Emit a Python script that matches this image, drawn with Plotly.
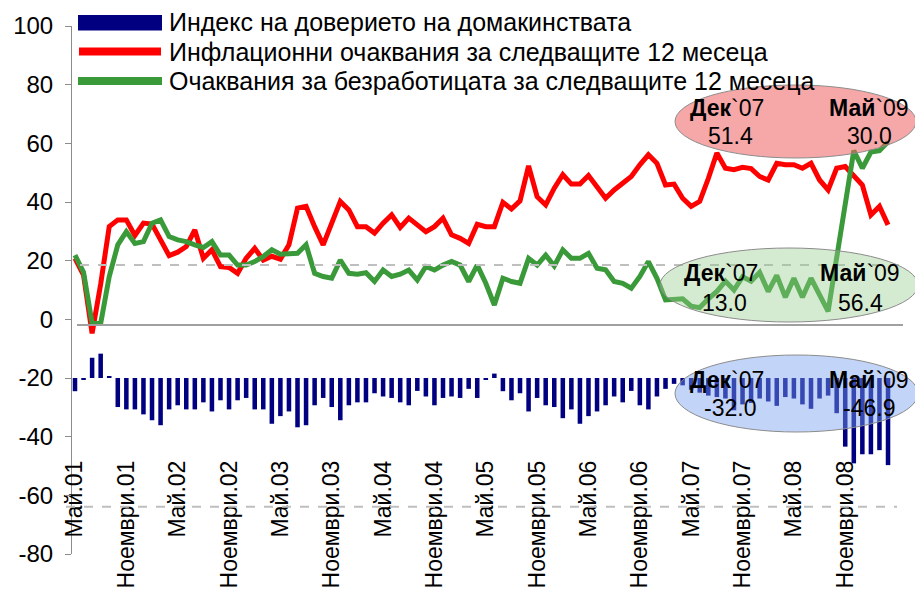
import pandas as pd
import plotly.graph_objects as go

# monthly observations, May 2001 .. April 2009
months = pd.date_range("2001-05-01", "2009-04-01", freq="MS").strftime("%Y-%m").tolist()

tick_labels = [
    "Май.01", "Ноември.01", "Май.02", "Ноември.02", "Май.03", "Ноември.03",
    "Май.04", "Ноември.04", "Май.05", "Ноември.05", "Май.06", "Ноември.06",
    "Май.07", "Ноември.07", "Май.08", "Ноември.08",
]
tick_months = months[::6]

series_names = [
    "Индекс на доверието на домакинствата",
    "Инфлационни очаквания за следващите 12 месеца",
    "Очаквания за безработицата за следващите 12 месеца",
]

confidence = [
    -24.5, -20.6, -13.1, -11.7, -19.5, -29.9, -30.7, -30.7, -32.4, -34.4,
    -36.1, -30.7, -29.3, -30.7, -30.7, -28.3, -31.4, -27.6, -30.7, -27.6,
    -26.8, -30.7, -30.7, -35.6, -33.0, -31.4, -36.8, -36.1, -29.3, -26.8,
    -29.9, -34.4, -29.3, -28.3, -28.3, -25.2, -26.3, -26.8, -28.3, -29.3,
    -24.4, -26.3, -29.3, -26.8, -26.3, -26.8, -23.7, -26.8, -20.5, -18.5,
    -24.5, -27.6, -25.2, -31.4, -26.8, -29.3, -29.9, -33.7, -30.7, -35.6,
    -33.0, -31.4, -29.3, -26.3, -28.3, -24.4, -29.3, -30.7, -26.3, -23.7,
    -22.0, -22.5, -24.0, -25.0, -26.0, -26.5, -27.0, -31.0, -29.0, -28.5,
    -27.0, -28.0, -29.5, -26.5, -27.0, -29.0, -30.5, -27.0, -26.0, -32.0,
    -43.4, -49.1, -46.0, -46.0, -44.6, -49.7,
]

inflation = [
    20.8, 15.1, -4.8, 12.0, 31.6, 33.9, 33.9, 28.6, 32.8, 32.5,
    27.1, 21.7, 22.9, 24.8, 30.5, 20.8, 23.7, 18.0, 17.7, 15.7,
    20.8, 24.2, 20.2, 21.5, 20.5, 25.4, 37.9, 38.5, 31.6, 25.4,
    32.8, 40.2, 37.3, 31.6, 31.6, 29.4, 32.8, 35.6, 31.3, 34.5,
    32.2, 29.9, 31.6, 34.5, 28.8, 27.6, 25.9, 32.4, 31.6, 31.6,
    39.9, 37.6, 40.4, 52.3, 41.8, 39.0, 44.7, 49.3, 46.1, 46.1,
    49.0, 45.4, 41.3, 44.1, 46.4, 48.7, 52.7, 56.1, 53.2, 45.8,
    46.1, 41.3, 38.5, 40.2, 48.0, 56.7, 51.5, 51.0, 51.8, 51.4,
    48.7, 47.5, 53.2, 52.7, 52.7, 51.5, 53.2, 47.5, 44.1, 51.5,
    52.1, 48.7, 45.8, 35.6, 38.5, 32.2,
]

unemployment = [
    21.9, 16.0, -1.4, -1.4, 14.6, 25.4, 29.9, 25.9, 26.5, 32.8,
    33.9, 28.2, 27.1, 26.5, 25.4, 24.5, 26.5, 21.9, 21.9, 18.5,
    18.5, 19.7, 21.4, 23.7, 22.2, 22.5, 22.5, 25.4, 15.7, 14.6,
    14.0, 20.2, 15.7, 15.4, 15.9, 12.9, 16.8, 14.6, 15.4, 16.8,
    13.4, 18.0, 16.8, 18.5, 19.7, 18.5, 12.9, 18.5, 12.3, 4.9,
    14.0, 12.9, 12.3, 20.8, 18.5, 21.9, 18.2, 23.7, 20.8, 20.8,
    22.5, 17.4, 16.9, 12.9, 12.3, 10.6, 14.6, 19.7, 14.0, 6.6,
    6.6, 7.0, 4.5, 4.0, 7.0, 9.5, 13.0, 10.0, 14.5, 13.0,
    16.0, 9.5, 15.0, 7.5, 14.0, 7.5, 14.0, 8.0, 2.7, 21.0,
    40.0, 57.5, 51.5, 57.0, 57.5, 60.5,
]

# reference levels drawn across the chart
upper_ref = 18.5
lower_ref = -63.9
base_line = -1.9
bar_base = -20

y_ticks = [-80, -60, -40, -20, 0, 20, 40, 60, 80, 100]

# callout texts: (month, year, value)
callout_inflation = [("Дек", "`07", "51.4"), ("Май", "`09", "30.0")]
callout_unemployment = [("Дек", "`07", "13.0"), ("Май", "`09", "56.4")]
callout_confidence = [("Дек", "`07", "-32.0"), ("Май", "`09", "-46.9")]

W, H = 915, 593
L, R, T, B = 72, 903, 26, 554
FONT = "Liberation Sans, Arial, sans-serif"


def px(x):
    return (x - L) / (R - L)


def py(y):
    return (B - y) / (B - T)


fig = go.Figure()
fig.add_trace(go.Bar(
    x=months, y=[v - bar_base for v in confidence], base=bar_base,
    customdata=confidence, hovertemplate="%{customdata}<extra></extra>",
    marker=dict(color="#000080", line=dict(width=0)),
    name=series_names[0], showlegend=False,
))
fig.add_trace(go.Scatter(
    x=months, y=inflation, mode="lines",
    line=dict(color="#FF0000", width=5),
    name=series_names[1], showlegend=False,
))
fig.add_trace(go.Scatter(
    x=months, y=unemployment, mode="lines",
    line=dict(color="#3A9A3A", width=5),
    name=series_names[2], showlegend=False,
))

shapes = []
annotations = []

# reference lines
shapes.append(dict(type="line", xref="paper", yref="y", x0=px(80), x1=px(905),
                   y0=upper_ref, y1=upper_ref, line=dict(color="#BFBFBF", width=2, dash="dash")))
shapes.append(dict(type="line", xref="paper", yref="y", x0=px(66), x1=px(897),
                   y0=lower_ref, y1=lower_ref, line=dict(color="#BFBFBF", width=2, dash="dash")))
shapes.append(dict(type="line", xref="paper", yref="y", x0=px(77), x1=px(903),
                   y0=base_line, y1=base_line, line=dict(color="#A0A0A0", width=2)))

# legend drawn by hand (long swatches)
shapes.append(dict(type="rect", xref="paper", yref="paper", x0=px(78), x1=px(162),
                   y0=py(30.5), y1=py(15), fillcolor="#000080", line=dict(width=0)))
shapes.append(dict(type="line", xref="paper", yref="paper", x0=px(79), x1=px(161),
                   y0=py(51.5), y1=py(51.5), line=dict(color="#FF0000", width=8)))
shapes.append(dict(type="line", xref="paper", yref="paper", x0=px(78), x1=px(162),
                   y0=py(81), y1=py(81), line=dict(color="#3A9A3A", width=8)))
for name, yc in zip(series_names, [22, 52, 81]):
    annotations.append(dict(text=name, xref="paper", yref="paper", x=px(167), y=py(yc),
                            xanchor="left", yanchor="middle", showarrow=False,
                            font=dict(size=25, color="black", family=FONT)))

# callout ellipses
ellipses = [
    ((675, 916, 85, 158), "rgba(238,95,95,0.55)", callout_inflation, (688, 827), 108, 136),
    ((660, 918, 248, 322), "rgba(150,205,140,0.40)", callout_unemployment, (682, 818), 273, 303),
    ((675, 918, 355, 432), "rgba(120,160,240,0.45)", callout_confidence, (688, 827), 380, 408),
]
for (x0, x1, y0, y1), fill, items, xs, ytop, ybot in ellipses:
    shapes.append(dict(type="circle", xref="paper", yref="paper", layer="above",
                       x0=px(x0), x1=px(x1), y0=py(y1), y1=py(y0),
                       fillcolor=fill, line=dict(color="#8C8C8C", width=1)))
    for (mon, yr, val), xl in zip(items, xs):
        annotations.append(dict(text="<b>" + mon + "</b>" + yr, xref="paper", yref="paper",
                                x=px(xl), y=py(ytop), xanchor="left", yanchor="middle",
                                showarrow=False, font=dict(size=23, color="black", family=FONT)))
        annotations.append(dict(text=val, xref="paper", yref="paper",
                                x=px(xl + 42), y=py(ybot), xanchor="center", yanchor="middle",
                                showarrow=False, font=dict(size=23, color="black", family=FONT)))

fig.update_layout(
    width=W, height=H,
    margin=dict(l=L, r=W - R, t=T, b=H - B, autoexpand=False),
    paper_bgcolor="white", plot_bgcolor="white",
    bargap=0.47,
    showlegend=False,
    shapes=shapes,
    annotations=annotations,
    font=dict(family=FONT, color="black"),
    xaxis=dict(
        type="category", range=[-0.35, 96.75],
        tickmode="array", tickvals=tick_months, ticktext=tick_labels,
        tickangle=-90, tickfont=dict(size=23, color="black"),
        showgrid=False, zeroline=False, showline=False, ticks="",
        anchor="free", position=py(455), automargin=False,
    ),
    yaxis=dict(
        range=[-80, 100], tickmode="array", tickvals=y_ticks,
        ticktext=[str(v) for v in y_ticks],
        tickfont=dict(size=24, color="black"),
        showgrid=False, zeroline=False,
        showline=True, linecolor="#8C8C8C", linewidth=1,
        ticks="outside", ticklen=6, tickcolor="#8C8C8C",
        ticklabelstandoff=7, automargin=False,
    ),
)

fig.write_html("out.html", config={"displayModeBar": False},
               post_script="document.body.style.margin='0';")
